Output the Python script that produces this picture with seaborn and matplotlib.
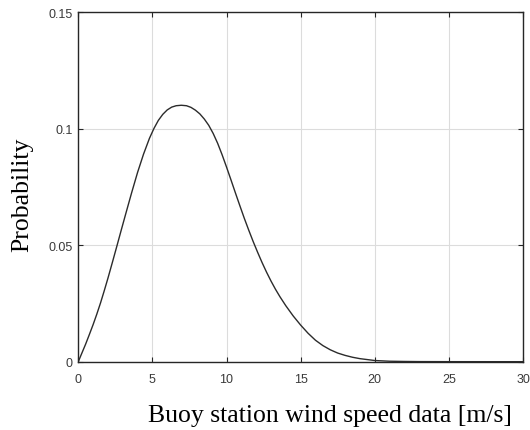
import matplotlib
matplotlib.use("Agg")
import matplotlib.pyplot as plt
import seaborn as sns
import pandas as pd

# Wind speed (m/s) and probability density of the buoy station record
wind_speed = [0, 0.25, 0.5, 0.75, 1.0, 1.25, 1.5, 1.75, 2.0, 2.3, 2.6, 2.9,
              3.2, 3.6, 4.0, 4.4, 4.8, 5.1, 5.4, 5.7, 6.0, 6.3, 6.6, 6.95,
              7.3, 7.6, 7.9, 8.2, 8.5, 8.8, 9.1, 9.4, 9.7, 10.0, 10.3, 10.6,
              10.9, 11.2, 11.5, 11.8, 12.1, 12.4, 12.7, 13.0, 13.3, 13.6,
              14.0, 14.5, 15.0, 15.5, 16.0, 16.5, 17.0, 17.5, 18.0, 18.5,
              19.0, 19.5, 20.0, 21.0, 22.0, 23.0, 25.0, 27.5, 30.0]
probability = [0, 0.0038, 0.0076, 0.0117, 0.0159, 0.0204, 0.0252, 0.0304,
               0.0358, 0.0426, 0.0495, 0.0565, 0.0634, 0.0725, 0.0812,
               0.0890, 0.0958, 0.1000, 0.1035, 0.1061, 0.1080, 0.1092,
               0.1098, 0.1100, 0.1098, 0.1091, 0.1079, 0.1063, 0.1041,
               0.1014, 0.0979, 0.0937, 0.0888, 0.0835, 0.0780, 0.0724,
               0.0669, 0.0615, 0.0564, 0.0515, 0.0469, 0.0425, 0.0384,
               0.0346, 0.0311, 0.0279, 0.0240, 0.0196, 0.0157, 0.0122,
               0.0092, 0.0069, 0.0051, 0.0037, 0.0027, 0.0019, 0.0013,
               0.0009, 0.0005, 0.0002, 0.0001, 0.00004, 0.00001, 0.0, 0.0]

x_ticks = [0, 5, 10, 15, 20, 25, 30]
y_ticks = [0, 0.05, 0.1, 0.15]
y_tick_labels = ["0", "0.05", "0.1", "0.15"]

df = pd.DataFrame({"speed": wind_speed, "prob": probability})

sns.set_theme(style="whitegrid")
plt.rcParams["font.family"] = ["Liberation Sans", "DejaVu Sans"]

fig = plt.figure(figsize=(5.30, 4.31), dpi=100)
ax = fig.add_axes([0.1477, 0.1585, 0.8391, 0.8113])

sns.lineplot(data=df, x="speed", y="prob", ax=ax, color="#2b2b2b",
             linewidth=1.0, estimator=None, sort=False)

ax.set_xlim(0, 30)
ax.set_ylim(0, 0.15)
ax.set_xticks(x_ticks)
ax.set_xticklabels([str(t) for t in x_ticks])
ax.set_yticks(y_ticks)
ax.set_yticklabels(y_tick_labels)

ax.set_facecolor("white")
ax.grid(True, color="#dcdcdc", linewidth=0.8)
for side in ["left", "right", "top", "bottom"]:
    ax.spines[side].set_visible(True)
    ax.spines[side].set_color("#262626")
    ax.spines[side].set_linewidth(1.0)

ax.tick_params(axis="both", which="major", direction="in", length=3.5,
               width=0.8, color="#262626", labelsize=9, labelcolor="#3a3a3a",
               top=True, right=True, bottom=True, left=True)
ax.tick_params(axis="x", pad=8)
ax.tick_params(axis="y", pad=4)

serif = ["Liberation Serif", "DejaVu Serif"]
ax.set_xlabel("Buoy station wind speed data [m/s]", family=serif,
              fontsize=18.5, color="black")
ax.set_ylabel("Probability", family=serif, fontsize=18.5, color="black")
ax.xaxis.set_label_coords(0.565, -0.122)
ax.yaxis.set_label_coords(-0.102, 0.479)

fig.savefig("out.png", dpi=100, facecolor="white")
